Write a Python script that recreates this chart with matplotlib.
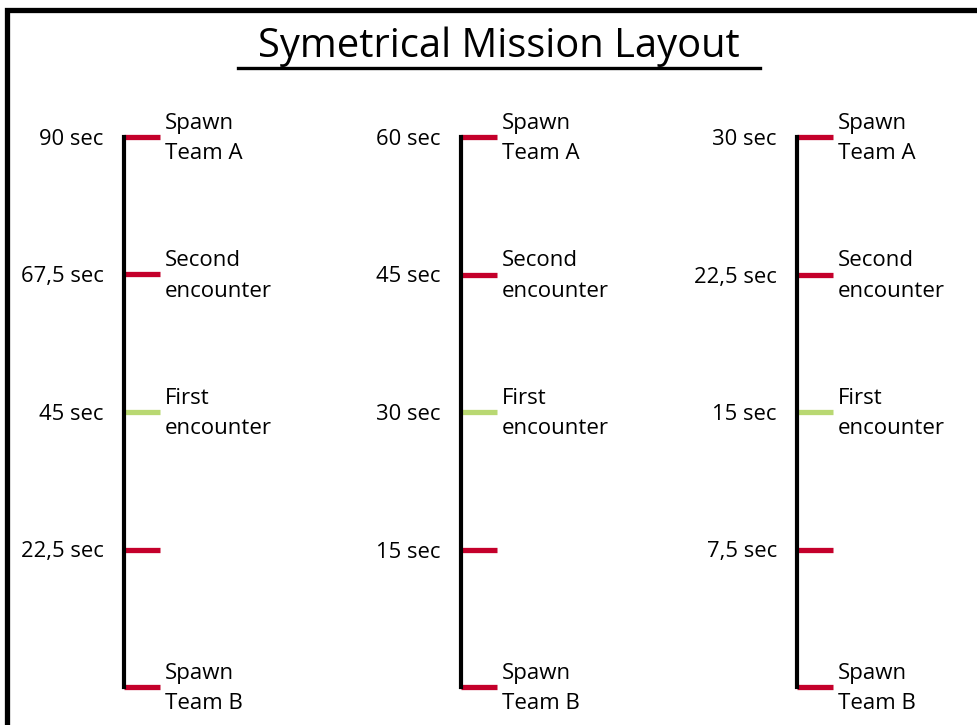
import matplotlib.pyplot as plt
from matplotlib.patches import Rectangle

plt.rcParams['font.family'] = ['Open Sans', 'DejaVu Sans']

# Dados das três linhas do tempo
durations = [90, 60, 30]
times = [
    [90, 67.5, 45, 22.5, 0],
    [60, 45, 30, 15, 0],
    [30, 22.5, 15, 7.5, 0],
]
time_labels = [
    ['90 sec', '67,5 sec', '45 sec', '22,5 sec', ''],
    ['60 sec', '45 sec', '30 sec', '15 sec', ''],
    ['30 sec', '22,5 sec', '15 sec', '7,5 sec', ''],
]
events = ['Spawn\nTeam A', 'Second\nencounter', 'First\nencounter', '', 'Spawn\nTeam B']
event_kind = ['red', 'red', 'green', 'red', 'red']

colors = {'red': '#C4002B', 'green': '#B9D872'}

W, H = 977, 725
fig = plt.figure(figsize=(W / 100, H / 100), dpi=100)

# Moldura (cortada à direita e embaixo)
fig.patches.append(Rectangle((6.5 / W, -0.1), 1.2, 1 - 10 / H + 0.1,
                             transform=fig.transFigure, fill=False,
                             edgecolor='black', linewidth=3.8))

# Título sublinhado
fig.text(499 / W, 1 - 57 / H, 'Symetrical Mission Layout', ha='center',
         va='baseline', fontsize=28.7)
fig.add_artist(plt.Line2D([238 / W, 760 / W], [1 - 68 / H, 1 - 68 / H],
                          transform=fig.transFigure, color='black', linewidth=2.4))

line_x = [124, 461, 797]
y_top, y_bot = 137, 687

for i, dur in enumerate(durations):
    ax = fig.add_axes([line_x[i] / W, 1 - y_bot / H, 36 / W, (y_bot - y_top) / H])
    ax.set_xlim(0, 1)
    ax.set_ylim(0, dur)
    ax.axis('off')
    ax.plot([0, 0], [0, dur], color='black', linewidth=3.0,
            solid_capstyle='projecting', clip_on=False, zorder=3)
    for t, tl, ev, kind in zip(times[i], time_labels[i], events, event_kind):
        ax.plot([0, 1], [t, t], color=colors[kind], linewidth=3.8,
                solid_capstyle='butt', clip_on=False, zorder=2)
        if tl:
            ax.annotate(tl, (0, t), xytext=(-14.5, -1.8), textcoords='offset points',
                        ha='right', va='center', fontsize=15.8)
        if ev:
            ax.annotate(ev, (1, t), xytext=(3.5, -1.2), textcoords='offset points',
                        ha='left', va='center', fontsize=16, linespacing=1.6)

fig.savefig('out.png', dpi=100)
